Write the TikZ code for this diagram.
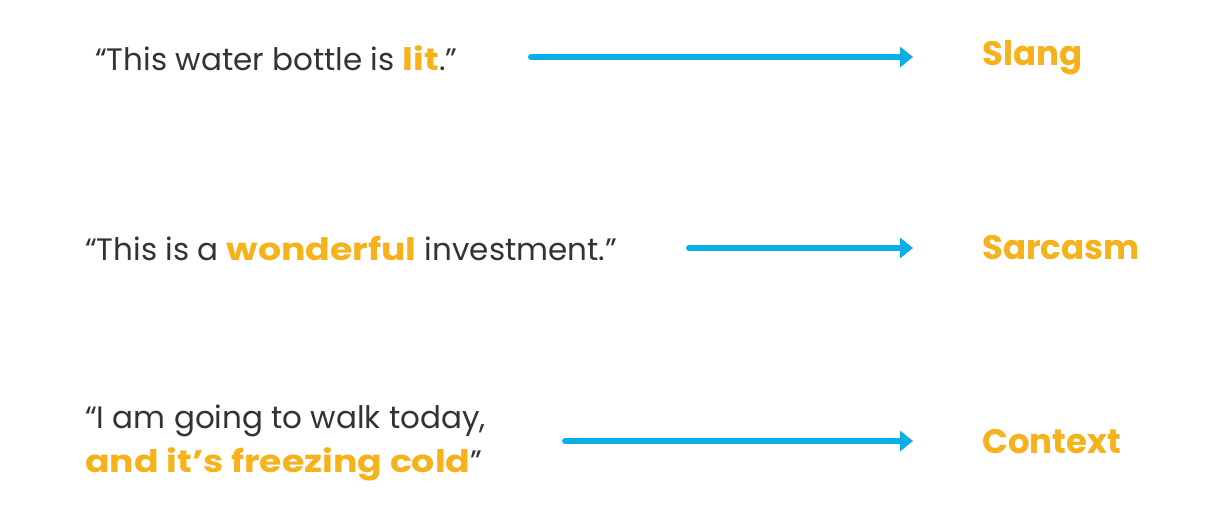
\documentclass[tikz,border=0pt]{standalone}
\usepackage{fontspec}
\setmainfont{Poppins}
\newfontfamily\hlfont{Poppins}[FakeStretch=1.17]
\usetikzlibrary{arrows.meta}
\definecolor{txtgray}{HTML}{333333}
\definecolor{hlorange}{HTML}{F5B21A}
\definecolor{arrblue}{HTML}{0BAEE8}
\tikzset{
  quote/.style={anchor=west, inner sep=0pt, text=txtgray, font=\fontsize{31}{44}\selectfont, align=left},
  label/.style={anchor=west, inner sep=0pt, text=hlorange, font=\fontsize{34}{38}\selectfont\bfseries},
  conn/.style={draw=arrblue, line width=6pt, line cap=round, -{Triangle[length=13pt,width=20pt]}}
}
\newcommand{\hl}[1]{{\hlfont\color{hlorange}\bfseries #1}}
\begin{document}
\begin{tikzpicture}[x=1pt,y=1pt]
\useasboundingbox (0,0) rectangle (1212,509);
\fill[white] (0,0) rectangle (1212,509);
% row 1
\node[quote] (q1) at (95,451) {“This water bottle is \hl{lit}.”};
\coordinate (s1) at (531,452);
\coordinate (e1) at (913,452);
\draw[conn] (s1) -- (e1);
\node[label] (l1) at (982,451) {Slang};
% row 2
\node[quote] (q2) at (85,261) {“This is a \hl{wonderful} investment.”};
\coordinate (s2) at (689,261);
\coordinate (e2) at (913,261);
\draw[conn] (s2) -- (e2);
\node[label] (l2) at (982,261) {Sarcasm};
% row 3
\node[quote] (q3) at (85,66) {“I am going to walk today,\\\hl{and it’s freezing cold}”};
\coordinate (s3) at (565,68);
\coordinate (e3) at (913,68);
\draw[conn] (s3) -- (e3);
\node[label] (l3) at (982,67) {Context};
\end{tikzpicture}
\end{document}
